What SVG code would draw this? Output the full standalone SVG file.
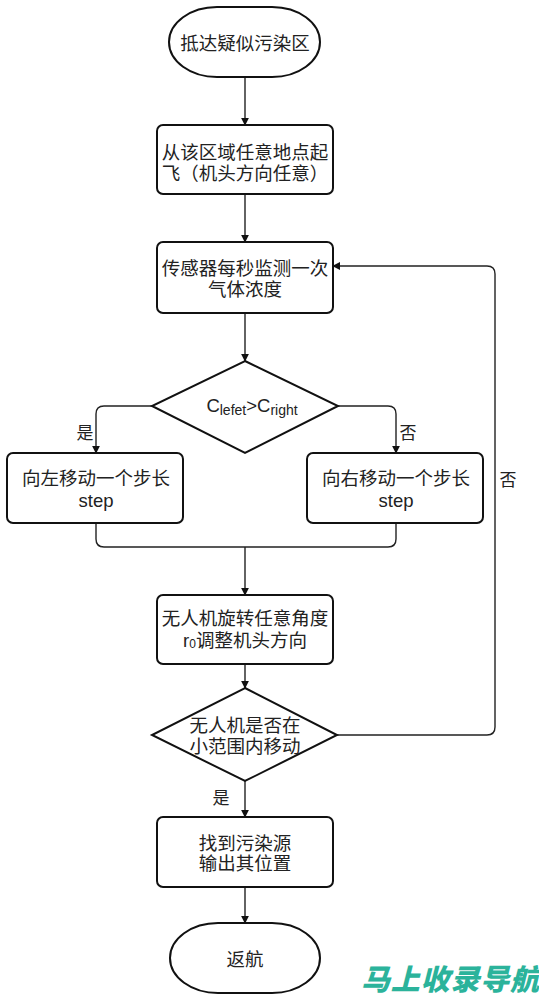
<svg xmlns="http://www.w3.org/2000/svg" width="539" height="1000" viewBox="0 0 539 1000">
<style>
.n{fill:#fff;stroke:#111;stroke-width:2}
.c{fill:none;stroke:#222;stroke-width:1.4}
.t{font-family:"Liberation Sans","Noto Sans CJK SC",sans-serif;font-size:18.5px;fill:#222;text-anchor:middle;dominant-baseline:central}
.l{font-family:"Noto Sans CJK SC",sans-serif;font-size:17px;fill:#222;text-anchor:middle;dominant-baseline:central}
</style>
<defs>
<marker id="a" viewBox="0 0 10 10" refX="9" refY="5" markerWidth="8" markerHeight="8" markerUnits="userSpaceOnUse" orient="auto">
<path d="M0,0 L10,5 L0,10 Z" fill="#111"/>
</marker>
</defs>
<rect width="539" height="1000" fill="#fff"/>
<g id="connectors">
<path class="c" d="M245,77 V125" marker-end="url(#a)"/>
<path class="c" d="M245,194 V242" marker-end="url(#a)"/>
<path class="c" d="M245,313 V361" marker-end="url(#a)"/>
<path class="c" d="M152,406 H104 Q96,406 96,414 V453" marker-end="url(#a)"/>
<path class="c" d="M338,406 H388 Q396,406 396,414 V453" marker-end="url(#a)"/>
<path class="c" d="M96,523 V539 Q96,547 104,547 H388 Q396,547 396,539 V523"/>
<path class="c" d="M245,547 V595" marker-end="url(#a)"/>
<path class="c" d="M245,664 V688" marker-end="url(#a)"/>
<path class="c" d="M337,735 H487 Q495,735 495,727 V274 Q495,266 487,266 H333" marker-end="url(#a)"/>
<path class="c" d="M245,781 V817" marker-end="url(#a)"/>
<path class="c" d="M245,887 V923" marker-end="url(#a)"/>
<text class="l" x="85" y="431">是</text>
<text class="l" x="408" y="431">否</text>
<text class="l" x="508" y="478">否</text>
<text class="l" x="221" y="796">是</text>
</g>
<g id="start">
<rect class="n" x="169" y="7" width="151" height="70" rx="48" ry="35"/>
<text class="t" x="245" y="43">抵达疑似污染区</text>
</g>
<g id="takeoff">
<rect class="n" x="157" y="125" width="176" height="69" rx="6"/>
<text class="t" x="245" y="152">从该区域任意地点起</text>
<text class="t" x="245" y="173">飞（机头方向任意）</text>
</g>
<g id="sense">
<rect class="n" x="157" y="242" width="176" height="71" rx="6"/>
<text class="t" x="245" y="268">传感器每秒监测一次</text>
<text class="t" x="245" y="289">气体浓度</text>
</g>
<g id="compare">
<polygon class="n" points="245,361 338,406 245,453 152,406"/>
<text class="t" x="252" y="405" font-size="20">C<tspan font-size="14" dy="5">lefet</tspan><tspan dy="-5">&gt;C</tspan><tspan font-size="14" dy="5">right</tspan></text>
</g>
<g id="left">
<rect class="n" x="7" y="453" width="176" height="70" rx="6"/>
<text class="t" x="96" y="478">向左移动一个步长</text>
<text class="t" x="96" y="500">step</text>
</g>
<g id="right">
<rect class="n" x="307" y="453" width="176" height="70" rx="6"/>
<text class="t" x="396" y="478">向右移动一个步长</text>
<text class="t" x="396" y="500">step</text>
</g>
<g id="rotate">
<rect class="n" x="157" y="595" width="176" height="69" rx="6"/>
<text class="t" x="245" y="618">无人机旋转任意角度</text>
<text class="t" x="245" y="640">r<tspan font-size="12" dy="4">0</tspan><tspan dy="-4">调整机头方向</tspan></text>
</g>
<g id="check">
<polygon class="n" points="245,688 337,735 245,781 152,735"/>
<text class="t" x="245" y="725">无人机是否在</text>
<text class="t" x="245" y="746">小范围内移动</text>
</g>
<g id="found">
<rect class="n" x="157" y="817" width="176" height="70" rx="6"/>
<text class="t" x="245" y="843">找到污染源</text>
<text class="t" x="245" y="863">输出其位置</text>
</g>
<g id="end">
<rect class="n" x="170" y="923" width="150" height="70" rx="48" ry="35"/>
<text class="t" x="245" y="959">返航</text>
</g>
<text x="361" y="977" font-family="Noto Sans CJK SC,sans-serif" font-size="29" font-weight="900" font-style="italic" fill="#2bb39b" dominant-baseline="central" textLength="178">马上收录导航</text>
</svg>
